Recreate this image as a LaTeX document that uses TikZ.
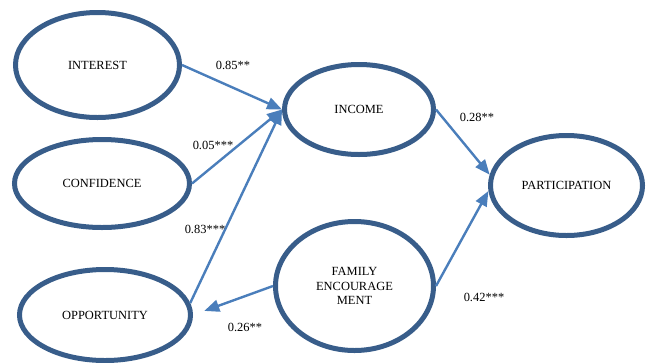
\documentclass[tikz,border=0pt]{standalone}
\usepackage{fontspec}
\setmainfont{Liberation Serif}
\usetikzlibrary{arrows.meta,shapes.geometric}
\definecolor{ringblue}{RGB}{56,93,138}
\definecolor{arrowblue}{RGB}{74,126,187}
\begin{document}
\begin{tikzpicture}[x=1bp,y=-1bp,
  latent/.style={ellipse,draw=ringblue,line width=5bp,inner sep=0pt,
    font=\fontsize{12.5}{14.5}\selectfont,align=center},
  pathline/.style={draw=arrowblue,line width=2.4bp,-{Triangle[length=15bp,width=12bp]}},
  coef/.style={font=\fontsize{12.5}{15}\selectfont,inner sep=0pt}]
\useasboundingbox (0,0) rectangle (649,362);
\node[latent,minimum width=164bp,minimum height=105bp] (int) at (97.5,65) {INTEREST};
\node[latent,minimum width=175bp,minimum height=88bp] (conf) at (102,183.5) {CONFIDENCE};
\node[latent,minimum width=171bp,minimum height=91bp] (opp) at (105,315) {OPPORTUNITY};
\node[latent,minimum width=149bp,minimum height=90bp] (inc) at (359,109.5) {INCOME};
\node[latent,minimum width=152bp,minimum height=100bp] (par) at (566.5,185.5) {PARTICIPATION};
\node[latent,minimum width=158bp,minimum height=129bp] (fam) at (354.5,286) {FAMILY\\ENCOURAGE\\MENT};
\draw[pathline] (int.east) -- (inc.west);
\draw[pathline] (conf.east) -- (inc.west);
\draw[pathline] (opp.8) -- (inc.west);
\draw[pathline] (inc.east) -- (par.172);
\draw[pathline] (fam.east) -- (par.184);
\draw[pathline,shorten >=12bp] (fam.west) -- (opp.east);
\node[coef] (c1) at (233,65) {0.85**};
\node[coef] (c2) at (213,145) {0.05***};
\node[coef] (c3) at (205,229) {0.83***};
\node[coef] (c4) at (245,327) {0.26**};
\node[coef] (c5) at (477,117) {0.28**};
\node[coef] (c6) at (484,297) {0.42***};
\end{tikzpicture}
\end{document}
